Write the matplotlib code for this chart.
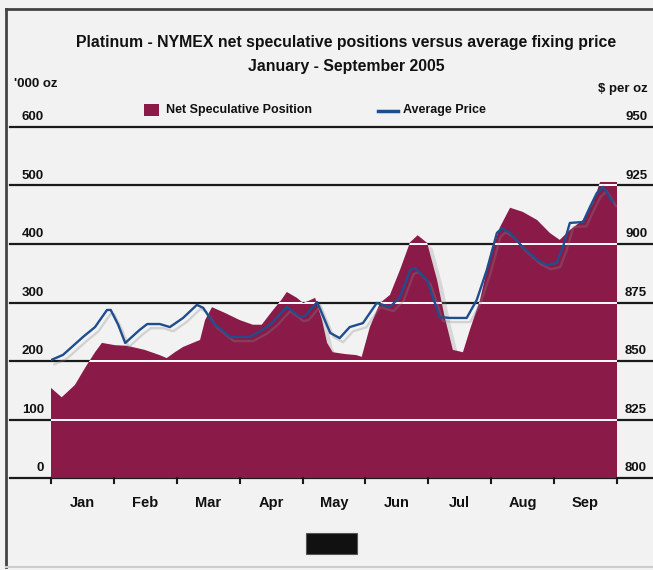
import matplotlib
matplotlib.use("Agg")
import matplotlib.pyplot as plt
import matplotlib.patheffects as pe
from matplotlib import font_manager
from matplotlib.patches import Rectangle
from matplotlib.lines import Line2D
import matplotlib.transforms as mtrans

# ---------------- data ----------------
months = ["Jan", "Feb", "Mar", "Apr", "May", "Jun", "Jul", "Aug", "Sep"]
left_ticks = [0, 100, 200, 300, 400, 500, 600]
right_tick_labels = ["800", "825", "850", "875", "900", "925", "950"]

# month position (0 = start of Jan, 9 = end of Sep)
pos_x = [0.00, 0.17, 0.38, 0.54, 0.70, 0.81, 1.02, 1.21, 1.49, 1.73, 1.84, 1.97,
         2.10, 2.37, 2.45, 2.56, 2.77, 3.00, 3.21, 3.35, 3.53, 3.66, 3.75, 3.91,
         4.01, 4.12, 4.20, 4.31, 4.39, 4.48, 4.67, 4.86, 4.94, 5.07, 5.23, 5.39,
         5.55, 5.71, 5.83, 5.98, 6.14, 6.26, 6.39, 6.55, 6.66, 6.82, 6.98, 7.14,
         7.30, 7.50, 7.73, 7.93, 8.09, 8.25, 8.46, 8.62, 8.73, 9.00]
net_spec = [154, 138, 159, 188, 215, 231, 227, 226, 219, 210, 205, 215,
            224, 236, 270, 292, 282, 270, 262, 262, 287, 304, 318, 308,
            299, 304, 308, 270, 231, 215, 212, 210, 207, 258, 299, 313,
            356, 403, 415, 402, 338, 275, 219, 215, 253, 304, 378, 429,
            462, 455, 441, 419, 407, 424, 441, 470, 506, 506]

price_x = [0.00, 0.19, 0.51, 0.70, 0.89, 0.95, 1.07, 1.18, 1.41, 1.53, 1.73, 1.89,
           2.10, 2.32, 2.42, 2.58, 2.85, 3.16, 3.37, 3.53, 3.75, 3.96, 4.04, 4.23,
           4.44, 4.59, 4.75, 4.96, 5.18, 5.39, 5.55, 5.71, 5.79, 5.98, 6.18, 6.34,
           6.61, 6.77, 6.93, 7.09, 7.17, 7.30, 7.50, 7.73, 7.89, 8.04, 8.14, 8.25,
           8.46, 8.57, 8.68, 8.78, 8.93]
avg_price = [850.4, 852.6, 860.3, 864.5, 871.8, 871.8, 865.4, 857.7, 863.3, 865.8, 865.8, 864.5,
             868.4, 874.0, 872.7, 866.2, 860.3, 860.3, 863.3, 866.7, 873.1, 868.8, 869.2, 875.2,
             862.0, 859.8, 864.5, 866.2, 874.8, 873.1, 877.4, 888.9, 889.8, 884.6, 868.8, 868.4,
             868.4, 876.1, 888.9, 904.7, 906.8, 904.7, 898.7, 893.2, 891.0, 891.9, 898.7, 909.0,
             909.4, 915.8, 921.8, 924.4, 918.0]

title1 = "Platinum - NYMEX net speculative positions versus average fixing price"
title2 = "January - September 2005"

# ---------------- style ----------------
names = {f.name for f in font_manager.fontManager.ttflist}
if "Liberation Sans Narrow" in names:
    FAM = ["Liberation Sans Narrow", "DejaVu Sans"]
elif "Liberation Sans" in names:
    FAM = ["Liberation Sans", "DejaVu Sans"]
else:
    FAM = ["DejaVu Sans"]
plt.rcParams["font.family"] = FAM

BG = "#F2F2F2"
MAROON = "#8A1A48"
BLUE = "#1F4E8E"
INK = "#111111"
W, H = 653, 570

fig = plt.figure(figsize=(W / 100, H / 100), dpi=100, facecolor=BG)

def fx(px):
    return px / W

def fy(py):
    return 1 - py / H

ax_l, ax_r, ax_t, ax_b = 51, 617, 127, 478
ax = fig.add_axes([fx(ax_l), fy(ax_b), fx(ax_r) - fx(ax_l), fy(ax_t) - fy(ax_b)])
ax.set_facecolor(BG)
ax.set_xlim(0, 9)
ax.set_ylim(0, 600)
for s in ax.spines.values():
    s.set_visible(False)
ax.set_yticks([])
ax.set_xticks([])

ax2 = ax.twinx()
ax2.set_ylim(800, 950)
for s in ax2.spines.values():
    s.set_visible(False)
ax2.set_yticks([])

# gridlines (dark, full width)
blend = mtrans.blended_transform_factory(ax.transAxes, ax.transData)
x0 = (10 - ax_l) / (ax_r - ax_l)
x1 = (653 - ax_l) / (ax_r - ax_l)
for v in left_ticks:
    ax.plot([x0, x1], [v, v], transform=blend, color="#1a1a1a", lw=1.6,
            clip_on=False, zorder=0.5)

# area
poly = ax.fill_between(pos_x, 0, net_spec, color=MAROON, lw=0, zorder=1)
poly.set_path_effects([pe.SimplePatchShadow(offset=(4, -4), shadow_rgbFace="#888888", alpha=0.25),
                       pe.Normal()])

# white gridlines inside area
for v in left_ticks[1:-1]:
    ln, = ax.plot([0, 9], [v, v], color="white", lw=1.4, zorder=1.5)
    ln.set_clip_path(poly.get_paths()[0], poly.get_transform())

# price line
ax2.plot(price_x, avg_price, color=BLUE, lw=1.7, zorder=3,
         path_effects=[pe.SimpleLineShadow(offset=(2.5, -3), shadow_color="#888888", alpha=0.3),
                       pe.Normal()])

# x ticks
for m in range(10):
    ax.plot([m, m], [0, -9], color="#1a1a1a", lw=1.5, clip_on=False, zorder=2)
for i, name in enumerate(months):
    ax.text(i + 0.5, -42, name, ha="center", va="center", fontsize=10.5,
            fontweight="bold", color=INK)

# left labels (sit just above each line)
for v in left_ticks:
    ax.annotate(str(v), xy=((44 - ax_l) / (ax_r - ax_l), v), xycoords=blend,
                xytext=(0, 7), textcoords="offset points",
                ha="right", va="center", fontsize=9.5, fontweight="bold", color=INK)
# right labels
for v, lab in zip(left_ticks, right_tick_labels):
    ax.annotate(lab, xy=((625 - ax_l) / (ax_r - ax_l), v), xycoords=blend,
                xytext=(0, 7), textcoords="offset points",
                ha="left", va="center", fontsize=9.5, fontweight="bold", color=INK)

# titles & unit labels
fig.text(fx(346), fy(42), title1, ha="center", va="center", fontsize=11.4,
         fontweight="bold", color=INK)
fig.text(fx(346), fy(67), title2, ha="center", va="center", fontsize=11.4,
         fontweight="bold", color=INK)
fig.text(fx(14), fy(84), "'000 oz", ha="left", va="center", fontsize=9.5,
         fontweight="bold", color=INK)
fig.text(fx(648), fy(89), "$ per oz", ha="right", va="center", fontsize=9.5,
         fontweight="bold", color=INK)

# legend
fig.patches.append(Rectangle((fx(144), fy(116)), fx(159) - fx(144), fy(104) - fy(116),
                             transform=fig.transFigure, facecolor=MAROON, edgecolor="none"))
fig.text(fx(166), fy(110), "Net Speculative Position", ha="left", va="center",
         fontsize=9, fontweight="bold", color=INK)
fig.lines.append(Line2D([fx(378), fx(398)], [fy(111), fy(111)], transform=fig.transFigure,
                        color=BLUE, lw=2.5))
fig.text(fx(403), fy(110), "Average Price", ha="left", va="center",
         fontsize=9, fontweight="bold", color=INK)

# black box at bottom
fig.patches.append(Rectangle((fx(306), fy(554)), fx(357) - fx(306), fy(533) - fy(554),
                             transform=fig.transFigure, facecolor="#111111",
                             edgecolor="#555555", lw=0.8))

# frame
fig.lines.append(Line2D([fx(6), fx(6)], [fy(9), fy(567)], transform=fig.transFigure,
                        color="#444444", lw=2))
fig.lines.append(Line2D([fx(6), fx(653)], [fy(9), fy(9)], transform=fig.transFigure,
                        color="#444444", lw=2))
fig.lines.append(Line2D([fx(6), fx(653)], [fy(567), fy(567)], transform=fig.transFigure,
                        color="#CCCCCC", lw=1.5))

fig.savefig("out.png", dpi=100, facecolor=BG)
